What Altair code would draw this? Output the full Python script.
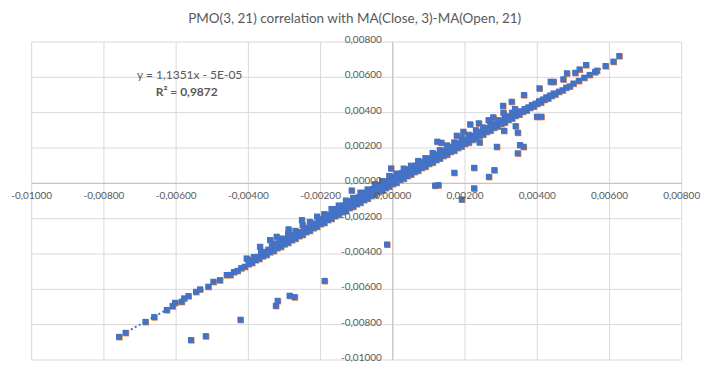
import altair as alt
import pandas as pd

# ---- data (values in thousandths) ----
tail_x = [-7.58, -7.40, -6.85, -6.61, -6.26, -6.10, -6.03, -5.85, -5.78, -5.66, -5.45, -5.34, -5.11, -4.97, -4.79, -4.60,
          5.15, 5.30, 5.45, 5.60]
tail_y = [-8.69, -8.46, -7.84, -7.57, -7.17, -6.95, -6.76, -6.70, -6.51, -6.38, -6.14, -6.00, -5.85, -5.57, -5.48, -5.19,
          5.80, 5.98, 6.14, 6.30]

rowa_x = [-4.5, -4.4, -4.3, -4.2, -4.1, -4.0, -3.9, -3.8, -3.7, -3.6, -3.5, -3.4, -3.3, -3.2, -3.1, -3.0,
          -2.9, -2.8, -2.7, -2.6, -2.5, -2.4, -2.3, -2.2, -2.1, -2.0, -1.9, -1.8, -1.7, -1.6, -1.5, -1.4,
          -1.3, -1.2, -1.1, -1.0, -0.9, -0.8, -0.7, -0.6, -0.5, -0.4, -0.3, -0.2, -0.1, 0.0, 0.1, 0.2,
          0.3, 0.4, 0.5, 0.6, 0.7, 0.8, 0.9, 1.0, 1.1, 1.2, 1.3, 1.4, 1.5, 1.6, 1.7, 1.8, 1.9, 2.0,
          2.1, 2.2, 2.3, 2.4, 2.5, 2.6, 2.7, 2.8, 2.9, 3.0, 3.1, 3.2, 3.3, 3.4, 3.5, 3.6, 3.7, 3.8,
          3.9, 4.0, 4.1, 4.2, 4.3, 4.4, 4.5, 4.6, 4.7, 4.8, 4.9, 5.0]
rowa_y = [-5.18, -5.02, -4.95, -4.80, -4.72, -4.57, -4.50, -4.34, -4.27, -4.12,
          -4.04, -3.89, -3.82, -3.66, -3.59, -3.44, -3.36, -3.21, -3.13, -2.98,
          -2.91, -2.75, -2.68, -2.53, -2.45, -2.30, -2.23, -2.07, -2.00, -1.85,
          -1.77, -1.62, -1.55, -1.39, -1.32, -1.17, -1.09, -0.94, -0.86, -0.71,
          -0.64, -0.48, -0.41, -0.26, -0.18, -0.03, 0.04, 0.20, 0.27, 0.42,
          0.50, 0.65, 0.72, 0.88, 0.95, 1.11, 1.18, 1.33, 1.41, 1.56,
          1.63, 1.79, 1.86, 2.01, 2.09, 2.24, 2.31, 2.47, 2.54, 2.69,
          2.77, 2.92, 2.99, 3.15, 3.22, 3.38, 3.45, 3.60, 3.68, 3.83,
          3.90, 4.06, 4.13, 4.28, 4.36, 4.51, 4.58, 4.74, 4.81, 4.96,
          5.04, 5.19, 5.27, 5.42, 5.49, 5.65]

rowb_x = [-3.95, -3.85, -3.75, -3.65, -3.55, -3.45, -3.35, -3.25, -3.15, -3.05,
          -2.95, -2.85, -2.75, -2.65, -2.55, -2.45, -2.35, -2.25, -2.15, -2.05,
          -1.95, -1.85, -1.75, -1.65, -1.55, -1.45, -1.35, -1.25, -1.15, -1.05,
          -0.95, -0.85, -0.75, -0.65, -0.55, -0.45, -0.35, -0.25, -0.15, -0.05,
          0.05, 0.15, 0.25, 0.35, 0.45, 0.55, 0.65, 0.75, 0.85, 0.95,
          1.05, 1.15, 1.25, 1.35, 1.45, 1.55, 1.65, 1.75, 1.85, 1.95,
          2.05, 2.15, 2.25, 2.35, 2.45, 2.55, 2.65, 2.75, 2.85, 2.95,
          3.05, 3.15, 3.25, 3.35, 3.45, 3.55, 3.65, 3.75, 3.85, 3.95,
          4.05, 4.15, 4.25, 4.35, 4.45]
rowb_y = [-4.35, -4.17, -4.16, -3.89, -3.88, -3.75, -3.57, -3.58, -3.39, -3.32,
          -3.13, -3.12, -2.94, -2.76, -2.76, -2.58, -2.52, -2.32, -2.27, -2.08,
          -2.02, -1.83, -1.78, -1.62, -1.46, -1.42, -1.25, -1.20, -1.00, -0.94,
          -0.79, -0.73, -0.52, -0.49, -0.32, -0.28, -0.08, -0.03, 0.12, 0.17,
          0.37, 0.42, 0.58, 0.63, 0.79, 0.84, 1.01, 1.06, 1.21, 1.27,
          1.42, 1.48, 1.63, 1.68, 1.85, 1.89, 2.05, 2.11, 2.27, 2.32,
          2.48, 2.54, 2.69, 2.76, 2.91, 2.97, 3.13, 3.19, 3.35, 3.42,
          3.56, 3.64, 3.78, 3.85, 4.00, 4.08, 4.21, 4.30, 4.43, 4.51,
          4.65, 4.74, 4.87, 4.97, 5.09]

rowc_x = [-3.3, -3.1, -2.9, -2.7, -2.5, -2.3, -2.1, -1.9, -1.7, -1.5, -1.3, -1.1, -0.9, -0.7, -0.5, -0.3, -0.1,
          0.1, 0.3, 0.5, 0.7, 0.9, 1.1, 1.3, 1.5, 1.7, 1.9, 2.1, 2.3, 2.5, 2.7, 2.9, 3.1, 3.3]
rowc_y = [-3.40, -3.12, -2.84, -2.69, -2.37, -2.18, -1.88, -1.74, -1.45, -1.25, -0.97, -0.82, -0.52, -0.34, -0.05, 0.13, 0.42,
          0.56, 0.84, 1.00, 1.27, 1.43, 1.72, 1.88, 2.15, 2.32, 2.59, 2.75, 3.01, 3.17, 3.41, 3.58, 3.82, 4.00]

out_x = [-5.59, -5.18, -4.22, -3.24, -3.19, -2.86, -2.72, -1.89, -0.16, -1.14,
         -0.05, 1.17, 1.26, 1.70, 1.91, 2.25, 2.25, 2.66, 2.81, 2.88,
         3.46, 3.52, 3.62, 3.99, 4.11, 1.23, 1.34, 1.77, 1.95, 2.40,
         3.08, 3.40, 3.46, 2.14, 2.38, 2.65, 2.78, 3.06, 3.05, 3.29,
         3.38, 3.63, 4.06, 4.37, 4.45, 4.72, 4.82, 5.05, 5.17, 5.35,
         5.65, 5.89, 6.11, 6.27, -2.89, -2.52, -3.22, -3.40, -3.68, -4.05]
out_y = [-8.87, -8.65, -7.72, -6.93, -6.65, -6.36, -6.44, -5.52, -3.46, -0.40,
         0.85, -0.13, -0.10, 0.60, -0.91, -0.28, 0.88, 0.37, 0.75, 2.07,
         1.70, 2.17, 2.07, 3.77, 3.77, 2.36, 2.30, 2.70, 2.92, 2.32,
         2.98, 3.24, 2.87, 3.34, 3.40, 3.58, 3.74, 4.00, 4.39, 4.62,
         4.21, 5.00, 5.38, 5.75, 5.75, 5.89, 6.23, 6.26, 6.45, 6.70,
         6.38, 6.64, 6.89, 7.21, -2.60, -2.08, -3.02, -3.21, -3.59, -4.25]

trend_x = [-7.58, 6.29]
trend_y = [-8.65, 7.09]

ticks = [-0.010, -0.008, -0.006, -0.004, -0.002, 0.0, 0.002, 0.004, 0.006, 0.008]
tick_labels = ["-0,01000", "-0,00800", "-0,00600", "-0,00400", "-0,00200",
               "0,00000", "0,00200", "0,00400", "0,00600", "0,00800"]

eq_lines = ["y = 1,1351x - 5E-05", "R\u00b2 = 0,9872"]

TITLE = "PMO(3, 21) correlation with MA(Close, 3)-MA(Open, 21)"

# ---- build ----
W, H = 650, 318
FONT = "Lato"
GREY = "#595959"
BLUE = "#4472C4"
ORANGE = "#ED7D31"

all_x = tail_x + rowa_x + rowb_x + rowc_x + out_x
all_y = tail_y + rowa_y + rowb_y + rowc_y + out_y
pts = pd.DataFrame({"x": [v / 1000 for v in all_x], "y": [v / 1000 for v in all_y]})
trend = pd.DataFrame({"x": [v / 1000 for v in trend_x], "y": [v / 1000 for v in trend_y]})
tk = pd.DataFrame({"v": ticks, "lab": tick_labels, "z": [0.0] * len(ticks)})
zero = pd.DataFrame({"z": [0.0]})

xs = alt.Scale(domain=[-0.01, 0.008], nice=False, zero=False)
ys = alt.Scale(domain=[-0.01, 0.008], nice=False, zero=False)

grid_v = alt.Chart(tk).mark_rule(color="#d9d9d9", strokeWidth=1).encode(
    x=alt.X("v:Q", scale=xs, axis=None), y=alt.value(0), y2=alt.value(H))
grid_h = alt.Chart(tk).mark_rule(color="#d9d9d9", strokeWidth=1).encode(
    y=alt.Y("v:Q", scale=ys, axis=None), x=alt.value(0), x2=alt.value(W))
axis_v = alt.Chart(zero).mark_rule(color="#bfbfbf", strokeWidth=1).encode(
    x=alt.X("z:Q", scale=xs, axis=None), y=alt.value(0), y2=alt.value(H))
axis_h = alt.Chart(zero).mark_rule(color="#bfbfbf", strokeWidth=1).encode(
    y=alt.Y("z:Q", scale=ys, axis=None), x=alt.value(0), x2=alt.value(W))

trend_line = alt.Chart(trend).mark_line(color=BLUE, strokeWidth=2, strokeDash=[2, 2.5]).encode(
    x=alt.X("x:Q", scale=xs, axis=None), y=alt.Y("y:Q", scale=ys, axis=None))

shadow = alt.Chart(pts).mark_square(size=36, color=ORANGE, opacity=1, xOffset=0.6, yOffset=0.6).encode(
    x=alt.X("x:Q", scale=xs, axis=None), y=alt.Y("y:Q", scale=ys, axis=None))
dots = alt.Chart(pts).mark_square(size=36, color=BLUE, opacity=1).encode(
    x=alt.X("x:Q", scale=xs, axis=None), y=alt.Y("y:Q", scale=ys, axis=None))

x_labels = alt.Chart(tk).mark_text(font=FONT, fontSize=10, color=GREY, dy=13, align="center", baseline="middle").encode(
    x=alt.X("v:Q", scale=xs, axis=None), y=alt.Y("z:Q", scale=ys, axis=None), text="lab:N")
y_labels = alt.Chart(tk).mark_text(font=FONT, fontSize=10, color=GREY, dx=-11, dy=-2, align="right", baseline="middle").encode(
    y=alt.Y("v:Q", scale=ys, axis=None), x=alt.X("z:Q", scale=xs, axis=None), text="lab:N")

eq1 = alt.Chart(pd.DataFrame({"t": [eq_lines[0]]})).mark_text(
    font=FONT, fontSize=12, color=GREY, align="center", baseline="middle").encode(
    x=alt.value(158), y=alt.value(33), text="t:N")
eq2 = alt.Chart(pd.DataFrame({"t": [eq_lines[1]]})).mark_text(
    font=FONT, fontSize=12, color=GREY, fontWeight="bold", align="center", baseline="middle").encode(
    x=alt.value(155), y=alt.value(50), text="t:N")

title_mark = alt.Chart(pd.DataFrame({"t": [TITLE]})).mark_text(
    font=FONT, fontSize=13.5, color=GREY, align="center", baseline="middle").encode(
    x=alt.value(W / 2 - 2), y=alt.value(-23), text="t:N")

chart = alt.layer(
    grid_v, grid_h, axis_v, axis_h, trend_line, shadow, dots, x_labels, y_labels, eq1, eq2, title_mark
).properties(
    width=W, height=H,
    autosize=alt.AutoSizeParams(type="none"),
    padding={"left": 23.7, "top": 34, "right": 20, "bottom": 3},
).configure_view(stroke=None)

chart.save("out.html", embed_options={"renderer": "svg", "actions": False})
